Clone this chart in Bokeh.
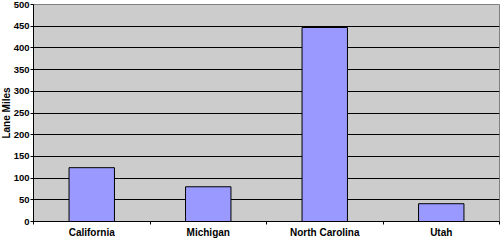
from bokeh.plotting import figure
from bokeh.models import FixedTicker, Range1d, ColumnDataSource, Title
from bokeh.embed import file_html
from bokeh.resources import INLINE

categories = ["California", "Michigan", "North Carolina", "Utah"]
lane_miles = [124, 80, 447, 41]
y_ticks = [0, 50, 100, 150, 200, 250, 300, 350, 400, 450, 500]
y_title = "Lane Miles"

xs = [i + 0.5 for i in range(len(categories))]
src = ColumnDataSource(dict(x=xs, top=lane_miles, cat=categories))

p = figure(width=500, height=240, output_backend="svg", toolbar_location=None,
           x_range=Range1d(0, len(categories)), y_range=Range1d(0, 500),
           min_border_left=0, min_border_right=1, min_border_top=4, min_border_bottom=0)
p.background_fill_color = "#CCCCCC"
p.border_fill_color = "white"
p.outline_line_color = "#808080"
p.outline_line_width = 1

p.vbar(x="x", top="top", width=0.39, bottom=0, source=src,
       fill_color="#9999FF", line_color="black", line_width=1)

p.xaxis.ticker = FixedTicker(ticks=xs, minor_ticks=list(range(len(categories) + 1)))
p.xaxis.major_label_overrides = {x: c for x, c in zip(xs, categories)}
p.xaxis.major_tick_line_color = None
p.xaxis.major_tick_out = 0
p.xaxis.major_tick_in = 0
p.xaxis.minor_tick_out = 3
p.xaxis.minor_tick_in = 0
p.xaxis.minor_tick_line_color = "black"
p.xaxis.axis_line_color = "black"
p.xaxis.major_label_text_color = "black"
p.xaxis.major_label_text_font = "Liberation Sans"
p.xaxis.major_label_text_font_style = "bold"
p.xaxis.major_label_text_font_size = "10px"
p.xaxis.major_label_standoff = 2

p.yaxis.ticker = FixedTicker(ticks=y_ticks)
p.yaxis.major_tick_out = 3
p.yaxis.major_tick_in = 0
p.yaxis.minor_tick_line_color = None
p.yaxis.axis_line_color = "black"
p.yaxis.major_tick_line_color = "black"
p.yaxis.major_label_text_color = "black"
p.yaxis.major_label_text_font = "Liberation Sans"
p.yaxis.major_label_text_font_style = "bold"
p.yaxis.major_label_text_font_size = "9.5px"
p.yaxis.major_label_standoff = 1

p.add_layout(Title(text=y_title, align="center", text_color="black",
                   text_font="Liberation Sans", text_font_style="bold",
                   text_font_size="10px", standoff=-3, offset=0), "left")

p.xgrid.grid_line_color = None
p.ygrid.ticker = FixedTicker(ticks=y_ticks)
p.ygrid.grid_line_color = "black"
p.ygrid.grid_line_width = 1

open("out.html", "w").write(file_html(p, INLINE))
